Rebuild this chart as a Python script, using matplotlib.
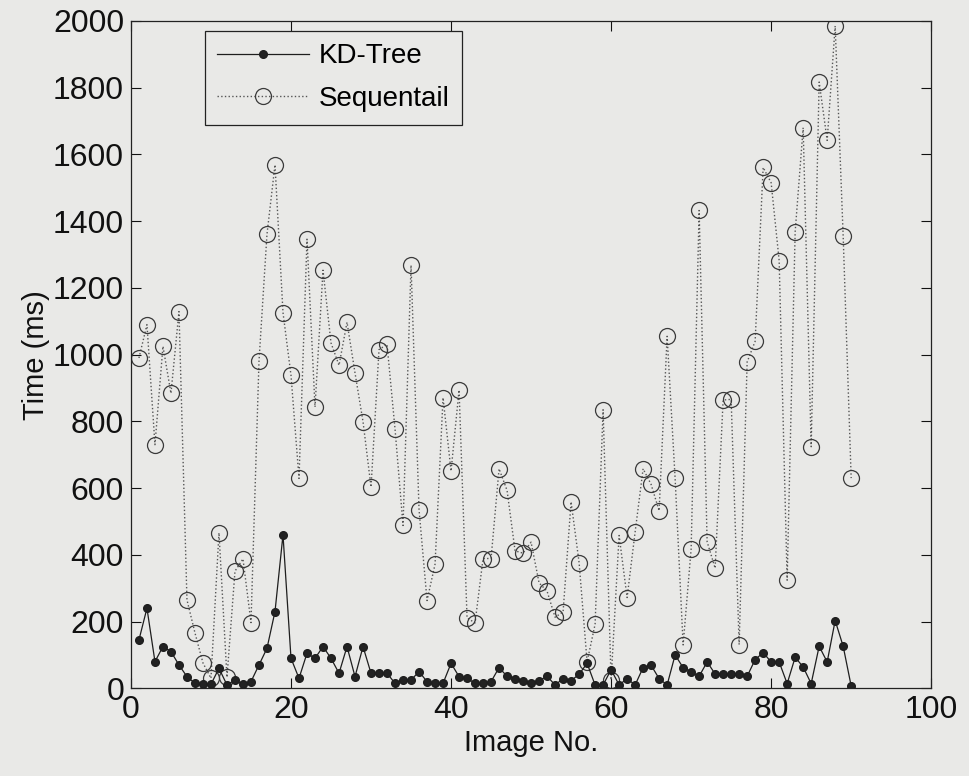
import numpy as np
import matplotlib
matplotlib.use("Agg")
import matplotlib.pyplot as plt

plt.rcParams['font.family'] = ['Liberation Sans', 'DejaVu Sans']

image_no = list(range(1, 91))

kd_tree = [145, 240, 80, 125, 110, 70, 35, 15, 12, 12,
           60, 10, 25, 12, 20, 70, 120, 230, 460, 90,
           30, 105, 90, 125, 90, 45, 125, 35, 125, 45,
           45, 45, 15, 25, 25, 50, 20, 15, 15, 75,
           35, 30, 15, 15, 20, 62, 36, 29, 23, 15,
           23, 36, 10, 29, 23, 42, 75, 10, 10, 56,
           10, 29, 10, 62, 69, 29, 10, 100, 62, 49,
           36, 79, 43, 43, 43, 43, 36, 86, 107, 79,
           79, 14, 93, 64, 14, 126, 79, 203, 126, 7]

sequential = [990, 1090, 730, 1025, 884, 1129, 265, 166, 76, 30,
              466, 33, 351, 388, 197, 980, 1361, 1569, 1126, 938,
              629, 1346, 843, 1253, 1035, 968, 1097, 945, 799, 603,
              1015, 1031, 777, 488, 1268, 535, 263, 372, 871, 651,
              894, 211, 196, 389, 389, 658, 593, 412, 405, 438,
              316, 291, 213, 229, 559, 377, 79, 192, 835, 25,
              458, 272, 468, 658, 611, 532, 1055, 629, 130, 417,
              1432, 439, 360, 864, 866, 131, 978, 1040, 1561, 1515,
              1282, 324, 1368, 1680, 724, 1817, 1642, 1985, 1355, 630]

x_ticks = [0, 20, 40, 60, 80, 100]
y_ticks = list(range(0, 2001, 200))

paper = '#e9e9e7'
fig = plt.figure(figsize=(9.7, 7.76), dpi=100, facecolor=paper)
ax = fig.add_axes([0.135, 0.113, 0.825, 0.86], facecolor=paper)

ax.plot(image_no, kd_tree, '-', color='#1e1e1e', linewidth=0.9,
        marker='o', markersize=5.5, markerfacecolor='#222222',
        markeredgecolor='#1e1e1e', label='KD-Tree', zorder=3)
ax.plot(image_no, sequential, ':', color='#555555', linewidth=1.0,
        marker='o', markersize=11.5, markerfacecolor='none',
        markeredgecolor='#3a3a3a', markeredgewidth=0.9,
        label='Sequentail', zorder=2)

ax.set_xlim(0, 100)
ax.set_ylim(0, 2000)
ax.set_xticks(x_ticks)
ax.set_yticks(y_ticks)
ax.tick_params(direction='in', length=7, width=0.8, labelsize=23,
               top=True, right=True, colors='#111111', pad=5)
for s in ax.spines.values():
    s.set_linewidth(0.9)
    s.set_color('#222222')

ax.set_xlabel('Image No.', fontsize=21, color='#111111', labelpad=3)
ax.set_ylabel('Time (ms)', fontsize=21, color='#111111', labelpad=2)

leg = ax.legend(loc='upper left', bbox_to_anchor=(0.092, 0.985),
                fontsize=20, handlelength=3.3, frameon=True, fancybox=False,
                borderpad=0.45, labelspacing=0.6, handletextpad=0.35,
                borderaxespad=0.0)
leg.get_frame().set_edgecolor('#222222')
leg.get_frame().set_facecolor(paper)
leg.get_frame().set_alpha(1.0)
leg.get_frame().set_linewidth(0.9)

fig.savefig('out.png', dpi=100, facecolor=paper)
